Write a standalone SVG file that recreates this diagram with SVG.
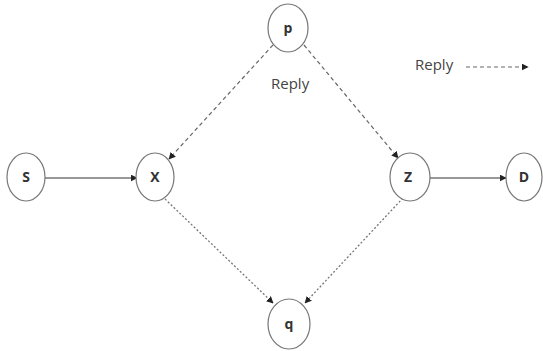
<svg xmlns="http://www.w3.org/2000/svg" width="543" height="351" viewBox="0 0 543 351">
<defs>
<marker id="ah" viewBox="0 0 10 10" refX="9" refY="5" markerWidth="7" markerHeight="7" markerUnits="userSpaceOnUse" orient="auto">
<path d="M0,0 L10,5 L0,10 z" fill="#222"/>
</marker>
</defs>
<style>
.n{fill:#fff;stroke:#777;stroke-width:1.2}
.t{font-family:"Open Sans","Liberation Sans",sans-serif;font-size:14px;font-weight:bold;fill:#333;text-anchor:middle}
.l{font-family:"Open Sans","Liberation Sans",sans-serif;font-size:15px;fill:#444}
.solid{stroke:#333;stroke-width:1.2;fill:none}
.dash{stroke:#666;stroke-width:1.2;fill:none;stroke-dasharray:4 3}
.dot{stroke:#777;stroke-width:1.3;fill:none;stroke-dasharray:2 2}
</style>
<rect width="543" height="351" fill="#fff"/>
<g id="connectors">
<line class="solid" x1="45" y1="178" x2="137" y2="178" marker-end="url(#ah)"/>
<line class="solid" x1="430" y1="178" x2="506" y2="178" marker-end="url(#ah)"/>
<line class="dash" x1="273" y1="45" x2="169" y2="159" marker-end="url(#ah)"/>
<line class="dash" x1="304" y1="45" x2="398" y2="158" marker-end="url(#ah)"/>
<line class="dot" x1="165" y1="199" x2="273" y2="303" marker-end="url(#ah)"/>
<line class="dot" x1="403" y1="198" x2="305" y2="303" marker-end="url(#ah)"/>
</g>
<g id="S"><ellipse class="n" cx="26" cy="177" rx="19" ry="24"/><text class="t" x="26" y="182">S</text></g>
<g id="X"><ellipse class="n" cx="155" cy="177" rx="19" ry="24"/><text class="t" x="155" y="182">X</text></g>
<g id="p"><ellipse class="n" cx="288" cy="28" rx="20" ry="24"/><text class="t" x="288" y="33">p</text></g>
<g id="Z"><ellipse class="n" cx="410" cy="177" rx="20" ry="24"/><text class="t" x="408" y="182">Z</text></g>
<g id="D"><ellipse class="n" cx="524" cy="177" rx="18" ry="24"/><text class="t" x="524" y="182">D</text></g>
<g id="q"><ellipse class="n" cx="289" cy="324" rx="21" ry="25"/><text class="t" x="289" y="329">q</text></g>
<text class="l" x="271" y="89">Reply</text>
<g id="legend">
<text class="l" x="415" y="70">Reply</text>
<line class="dash" x1="466" y1="67" x2="528" y2="67" stroke-dasharray="3 2" marker-end="url(#ah)"/>
</g>
</svg>
